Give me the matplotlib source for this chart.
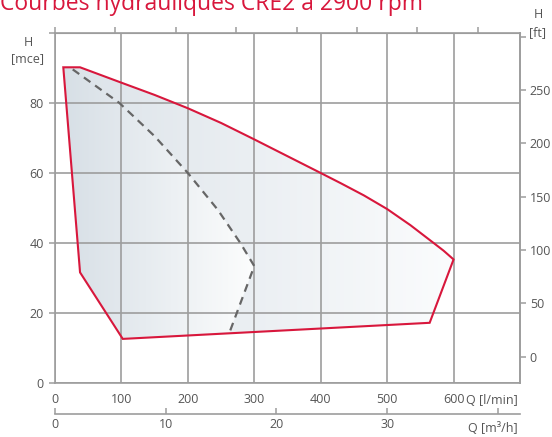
import numpy as np
import matplotlib
matplotlib.use("Agg")
import matplotlib.pyplot as plt
from matplotlib.patches import Polygon
from matplotlib.colors import LinearSegmentedColormap

plt.rcParams['font.family'] = ['Open Sans', 'DejaVu Sans']

# ---- data (l/min, m) ----
env_top_q = [12.5, 37.7]
env_top_h = [90.2, 90.2]
upper_q = [100, 150, 200, 250, 300, 350, 400, 430, 465, 500, 535, 570, 585, 600]
upper_h = [85.8, 82.3, 78.5, 74.3, 69.6, 64.8, 60.0, 57.1, 53.6, 49.7, 45.1, 40.0, 37.8, 35.3]
lower_q = [564, 102, 37.7]
lower_h = [17.2, 12.6, 31.6]

dash_q = [26.7, 97, 150, 200, 245, 279, 300, 263]
dash_h = [89.6, 80.0, 70.5, 60.0, 49.5, 40.0, 33.4, 14.6]

x_ticks = [0, 100, 200, 300, 400, 500, 600]
y_ticks = [0, 20, 40, 60, 80, 100]
y_labels = ['0', '20', '40', '60', '80', '']
ft_ticks = [0, 50, 100, 150, 200, 250, 300]
ft_labels = ['0', '50', '100', '150', '200', '250', '']
m3h_ticks = [0, 10, 20, 30, 40]
m3h_labels = ['0', '10', '20', '30', '']
igpm_ticks = [0, 20, 40, 60, 80, 100, 120, 140]

RED = '#d8173c'
GRID = '#9d9d9d'
TXT = '#555555'
FS = 9

W, H = 552, 437
fig = plt.figure(figsize=(W / 100, H / 100), dpi=100)
ax = fig.add_axes([55 / W, 1 - 383 / H, 465 / W, 350 / H])
ax.set_xlim(0, 700)
ax.set_ylim(0, 100)

# envelope polygon
env_q = env_top_q + upper_q + lower_q
env_h = env_top_h + upper_h + lower_h
env_pts = np.column_stack([env_q, env_h])

# left region: left edge + lower line to dashed end + dashed reversed
left_pts = np.array([(env_top_q[0], env_top_h[0]),
                     (lower_q[2], lower_h[2]),
                     (lower_q[1], lower_h[1])] +
                    list(zip(dash_q[::-1], dash_h[::-1])))

grad = np.linspace(0, 1, 256).reshape(1, -1)
cm_right = LinearSegmentedColormap.from_list('r', ['#dce3e9', '#fbfcfd'])
cm_left = LinearSegmentedColormap.from_list('l', ['#d7dfe6', '#fcfdfd'])

p_env = Polygon(env_pts, closed=True, facecolor='none', edgecolor='none')
ax.add_patch(p_env)
im1 = ax.imshow(grad, cmap=cm_right, extent=(12.5, 600, 0, 100),
                aspect='auto', zorder=1, interpolation='bilinear')
im1.set_clip_path(p_env)

p_left = Polygon(left_pts, closed=True, facecolor='none', edgecolor='none')
ax.add_patch(p_left)
im2 = ax.imshow(grad, cmap=cm_left, extent=(12.5, 300, 0, 100),
                aspect='auto', zorder=1.1, interpolation='bilinear')
im2.set_clip_path(p_left)
ax.set_xlim(0, 700)
ax.set_ylim(0, 100)

# grid
ax.set_xticks(x_ticks)
ax.set_yticks(y_ticks)
ax.set_yticklabels(y_labels)
ax.grid(True, color=GRID, lw=1.2)
for gl in ax.get_xgridlines() + ax.get_ygridlines():
    gl.set_zorder(1.5)

# outline + dashed
ax.add_patch(Polygon(env_pts, closed=True, facecolor='none', edgecolor=RED,
                     lw=1.5, zorder=3, joinstyle='miter'))
ax.plot(dash_q, dash_h, color='#666666', lw=1.6, dashes=(3.6, 2.6), zorder=2.5)

for s in ax.spines.values():
    s.set_color(GRID)
    s.set_linewidth(1.2)

ax.tick_params(axis='x', length=0, pad=7, labelsize=FS, labelcolor=TXT)
ax.tick_params(axis='y', length=4, width=1.1, color=GRID, pad=4,
               labelsize=FS, labelcolor=TXT)

# top ticks (Imp. gpm)
top = ax.secondary_xaxis('top', functions=(lambda q: q / 4.54609, lambda g: g * 4.54609))
top.set_xticks(igpm_ticks)
top.set_xticklabels([''] * len(igpm_ticks))
top.tick_params(length=4, width=1.1, color=GRID, direction='out')
top.spines['top'].set_color(GRID)

# right ft axis
right = ax.secondary_yaxis('right', functions=(lambda m: (m - 7.5) * 3.28084,
                                               lambda f: f / 3.28084 + 7.5))
right.set_yticks(ft_ticks)
right.set_yticklabels(ft_labels)
right.tick_params(length=4, width=1.1, color=GRID, pad=3, labelsize=FS, labelcolor=TXT)
right.spines['right'].set_color(GRID)
right.spines['right'].set_linewidth(1.2)

# bottom m3/h axis
bot = ax.secondary_xaxis(-0.088, functions=(lambda q: q * 0.06, lambda m: m / 0.06))
bot.set_xticks(m3h_ticks)
bot.set_xticklabels(m3h_labels)
bot.tick_params(length=4, width=1.1, color=GRID, direction='in', pad=3,
                labelsize=FS, labelcolor=TXT)
bot.spines['bottom'].set_color(GRID)
bot.spines['bottom'].set_linewidth(1.2)

# unit labels
fig.text(518 / W, 1 - 400 / H, 'Q [l/min]', ha='right', va='center', fontsize=FS, color=TXT)
fig.text(518 / W, 1 - 428 / H, 'Q [m³/h]', ha='right', va='center', fontsize=FS, color=TXT)
fig.text(28 / W, 1 - 42 / H, 'H', ha='center', va='center', fontsize=FS, color=TXT)
fig.text(28 / W, 1 - 59 / H, '[mce]', ha='center', va='center', fontsize=FS, color=TXT)
fig.text(538 / W, 1 - 15 / H, 'H', ha='center', va='center', fontsize=FS, color=TXT)
fig.text(538 / W, 1 - 33 / H, '[ft]', ha='center', va='center', fontsize=FS, color=TXT)

# title (partially cut at top as in reference)
fig.text(0, 1 - 10 / H, 'Courbes hydrauliques CRE2 à 2900 rpm', ha='left',
         va='baseline', fontsize=16.5, color=RED)

fig.savefig('out.png', dpi=100)
